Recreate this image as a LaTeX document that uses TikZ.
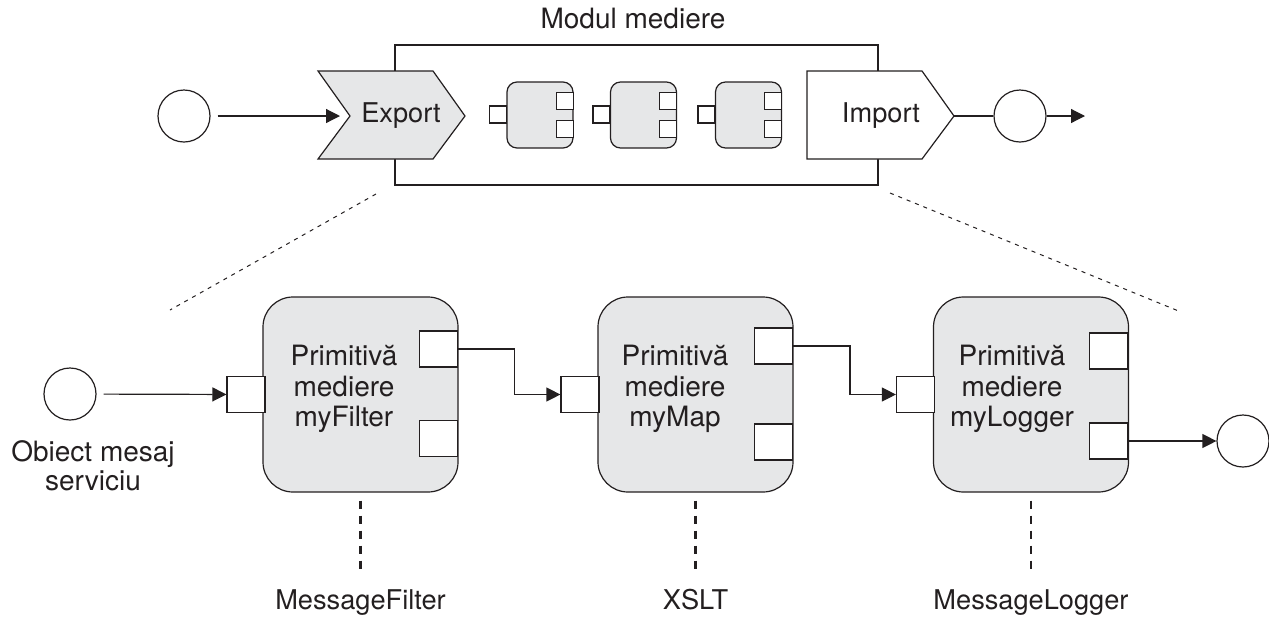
\documentclass[tikz,border=0pt]{standalone}
\usepackage{fontspec}
\setmainfont{TeX Gyre Heros}
\usetikzlibrary{arrows.meta,calc}
\definecolor{inkx}{HTML}{231F20}
\definecolor{fillx}{HTML}{E6E7E8}
\tikzset{
  ln/.style={line width=0.6pt,inkx},
  ar/.style={-{Triangle[length=7pt,width=7pt]},line width=0.6pt,inkx},
  ev/.style={circle,draw=inkx,line width=0.6pt,fill=white,minimum size=26pt,inner sep=0pt},
  prim/.style={draw=inkx,line width=0.6pt,fill=fillx,rounded corners=15pt,minimum size=97.5pt,inner sep=0pt},
  comp/.style={draw=inkx,line width=0.6pt,fill=fillx,rounded corners=5pt,minimum size=33pt,inner sep=0pt},
  port/.style={draw=inkx,line width=0.6pt,fill=white,minimum width=19pt,minimum height=18pt,inner sep=0pt},
  sport/.style={draw=inkx,line width=0.6pt,fill=white,minimum width=8.5pt,minimum height=8.5pt,inner sep=0pt},
  txt/.style={inkx,font=\fontsize{14}{15.25}\selectfont,align=center,inner sep=0pt},
  lbl/.style={inkx,font=\fontsize{13.6}{15}\selectfont,inner sep=0pt,anchor=base},
  zoomln/.style={inkx,line width=0.5pt,dash pattern=on 2pt off 2.5pt},
  tie/.style={inkx,line width=1.3pt,dash pattern=on 4pt off 3.5pt}
}
\begin{document}
\begin{tikzpicture}[x=0.5pt,y=-0.5pt]
\useasboundingbox (0,0) rectangle (1269,617);
\node[lbl,font=\fontsize{14}{15}\selectfont] (modtitle) at (633,28) {Modul mediere};
\draw[ln] (395,45) rectangle (878,185);
\node[ev] (start) at (184,116) {};
\coordinate (exin) at (340,116);
\draw[ln,fill=fillx] (318,71) -- (433,71) -- (465,116) -- (433,159) -- (318,159) -- (350,116) -- cycle;
\node[lbl] (export) at (401,122) {Export};
\node[comp] (c1) at (540,115) {};
\node[sport] (c1i) at (498,114.5) {};
\node[sport] (c1a) at (564.75,101) {};
\node[sport] (c1b) at (564.75,129) {};
\node[comp] (c2) at (643.5,115) {};
\node[sport] (c2i) at (601.5,114.5) {};
\node[sport] (c2a) at (668.25,101) {};
\node[sport] (c2b) at (668.25,129) {};
\node[comp] (c3) at (748.5,115) {};
\node[sport] (c3i) at (706.5,114.5) {};
\node[sport] (c3a) at (773.25,101) {};
\node[sport] (c3b) at (773.25,129) {};
\draw[ln,fill=white] (807,71) -- (922,71) -- (954,116) -- (922,159) -- (807,159) -- cycle;
\coordinate (imout) at (954,116);
\node[lbl] (import) at (881,122) {Import};
\node[ev] (stop) at (1020,116) {};
\coordinate (topend) at (1085,116);
\draw[ar,shorten <=3.5pt] (start) -- (exin);
\draw[ln] (imout) -- (stop);
\draw[ar] (stop) -- (topend);
\draw[zoomln] (376,194) -- (170,310);
\draw[zoomln] (890,193) -- (1181,312);
\node[ev] (msg) at (70,394) {};
\node[txt,font=\fontsize{14}{14.5}\selectfont] (msgtxt) at (93,466) {Obiect mesaj\\serviciu};
\node[prim] (filter) at (360.5,394.5) {};
\node[txt] (tfilter) at (344,389) {Primitivă\\mediere\\myFilter};
\node[port] (f-in) at (246,394.5) {};
\node[port] (f-o1) at (438.5,349) {};
\node[port] (f-o2) at (438.5,438.5) {};
\node[prim] (map) at (695.5,394.5) {};
\node[txt] (tmap) at (675,389) {Primitivă\\mediere\\myMap};
\node[port] (m-in) at (580,394.5) {};
\node[port] (m-o1) at (773.5,346) {};
\node[port] (m-o2) at (773.5,442) {};
\node[prim] (logger) at (1031,394.5) {};
\node[txt] (tlogger) at (1012,389) {Primitivă\\mediere\\myLogger};
\node[port] (l-in) at (915.5,394.5) {};
\node[port] (l-o1) at (1108.5,351) {};
\node[port] (l-o2) at (1108.5,441) {};
\node[ev] (out) at (1243,441) {};
\draw[ar,shorten <=3.5pt] (msg) -- (f-in);
\draw[ar] (f-o1.east) -| ([xshift=-23pt]m-in.west) -- (m-in.west);
\draw[ar] (m-o1.east) -| ([xshift=-23pt]l-in.west) -- (l-in.west);
\draw[ar] (l-o2.east) -- (out);
\node[lbl] (lfilter) at (360.5,609) {MessageFilter};
\node[lbl] (lmap) at (695.5,609) {XSLT};
\node[lbl] (llogger) at (1031,609) {MessageLogger};
\draw[tie] ([yshift=-4pt]filter.south) -- ([yshift=8pt]lfilter.north);
\draw[tie] ([yshift=-4pt]map.south) -- ([yshift=8pt]lmap.north);
\draw[tie] ([yshift=-4pt]logger.south) -- ([yshift=8pt]llogger.north);
\end{tikzpicture}
\end{document}
